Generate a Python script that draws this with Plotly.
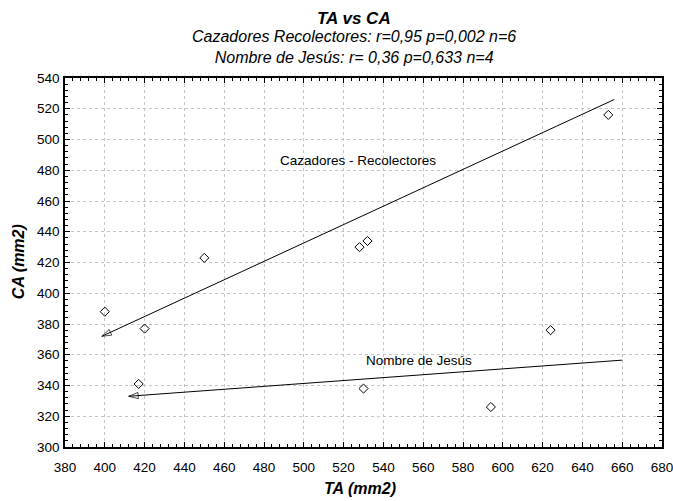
import plotly.graph_objects as go

# Data
cr_ta = [400, 420, 450, 528, 532, 653]
cr_ca = [388, 377, 423, 430, 434, 516]
nj_ta = [417, 530, 594, 624]
nj_ca = [341, 338, 326, 376]

# Trend arrows (drawn from right end to arrow tip)
cr_line_ta = [656, 398.5]
cr_line_ca = [526, 372]
nj_line_ta = [660, 412]
nj_line_ca = [356.5, 333]

x_ticks = list(range(380, 681, 20))
y_ticks = list(range(300, 541, 20))

title_main = "TA vs CA"
subtitle1 = "Cazadores Recolectores: r=0,95 p=0,002 n=6"
subtitle2 = "Nombre de Jesús: r= 0,36 p=0,633 n=4"
label_cr = "Cazadores - Recolectores"
label_nj = "Nombre de Jesús"
x_title = "TA (mm2)"
y_title = "CA (mm2)"

FONT = "Liberation Sans, Arial, sans-serif"

fig = go.Figure()

for lx, ly in [(cr_line_ta, cr_line_ca), (nj_line_ta, nj_line_ca)]:
    fig.add_trace(go.Scatter(
        x=lx, y=ly, mode="lines+markers",
        line=dict(color="black", width=1),
        marker=dict(symbol="arrow-open", size=[0, 10], angleref="previous",
                    color="black", line=dict(color="black", width=1)),
        showlegend=False, hoverinfo="skip"))

for xs, ys in [(cr_ta, cr_ca), (nj_ta, nj_ca)]:
    fig.add_trace(go.Scatter(
        x=xs, y=ys, mode="markers",
        marker=dict(symbol="diamond-open", size=7, color="black", line=dict(width=1)),
        showlegend=False))

fig.add_annotation(x=527, y=486.5, xref="x", yref="y", text=label_cr,
                   showarrow=False, font=dict(family=FONT, size=13.5, color="black"))
fig.add_annotation(x=558, y=356, xref="x", yref="y", text=label_nj,
                   showarrow=False, font=dict(family=FONT, size=13.5, color="black"))

# titles (paper coords: plot area spans page y 78..447, x 65..662)
fig.add_annotation(x=0.484, y=1.1626, xref="paper", yref="paper", yanchor="middle",
                   text="<b><i>" + title_main + "</i></b>", showarrow=False,
                   font=dict(family=FONT, size=17, color="black"))
fig.add_annotation(x=0.484, y=1.0833, xref="paper", yref="paper", yanchor="middle",
                   text="<i>" + subtitle1 + "<br>" + subtitle2 + "</i>", showarrow=False,
                   font=dict(family=FONT, size=16, color="black"))
fig.add_annotation(x=0.494, y=-0.1138, xref="paper", yref="paper", yanchor="middle",
                   text="<b><i>" + x_title + "</i></b>", showarrow=False,
                   font=dict(family=FONT, size=16, color="black"))
fig.add_annotation(x=-0.0787, y=0.501, xref="paper", yref="paper", xanchor="center",
                   yanchor="middle", textangle=-90,
                   text="<b><i>" + y_title + "</i></b>", showarrow=False,
                   font=dict(family=FONT, size=16, color="black"))

axis_common = dict(
    showline=True, linecolor="black", linewidth=1.5, mirror="ticks",
    ticks="inside", ticklen=5, tickcolor="black", tickwidth=1,
    showgrid=True, gridcolor="#c4c4c4", griddash="dot", gridwidth=1,
    zeroline=False, automargin=False, ticklabeloverflow="allow",
    tickfont=dict(family=FONT, size=13.5, color="black"),
    minor=dict(ticks="inside", ticklen=3, tickcolor="black", dtick=4, showgrid=False),
)

fig.update_layout(
    width=673, height=501,
    margin=dict(l=65, r=11, t=78, b=54),
    paper_bgcolor="white", plot_bgcolor="white",
    font=dict(family=FONT, color="black"),
    xaxis=dict(range=[380, 680], tickvals=x_ticks, ticklabelstandoff=7, **axis_common),
    yaxis=dict(range=[300, 540], tickvals=y_ticks, ticklabelstandoff=1, **axis_common),
)

# remove the default 8px page margin so the figure fills the window exactly
fig.write_html("out.html", config={"displayModeBar": False},
               post_script="document.body.style.margin='0';document.body.style.overflow='hidden';")
